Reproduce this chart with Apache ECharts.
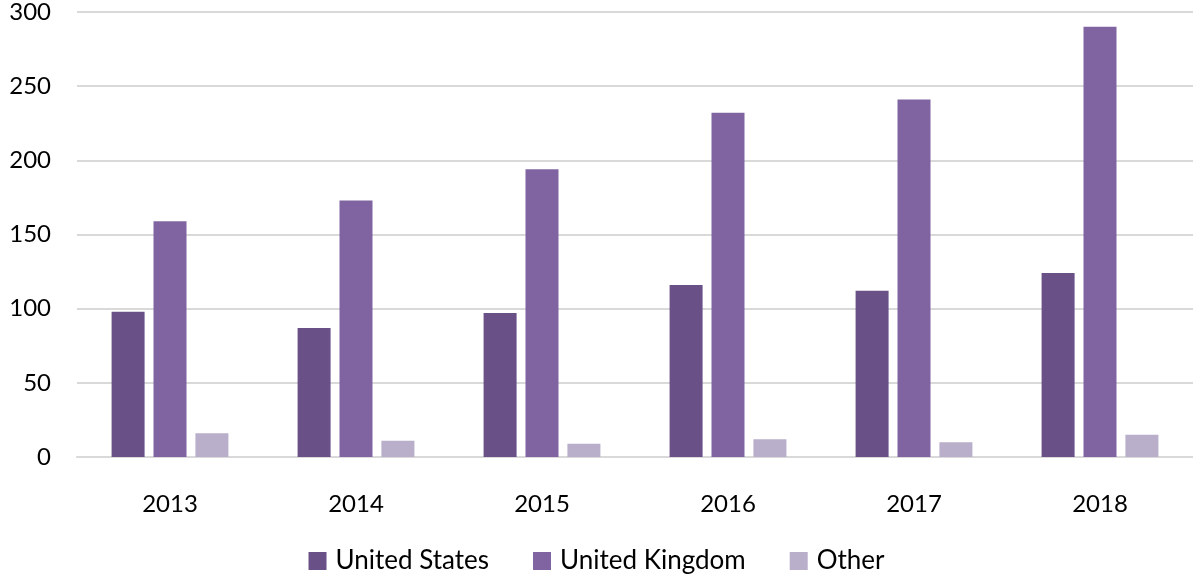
<!DOCTYPE html>
<html>
<head>
<meta charset="utf-8">
<script src="https://cdn.jsdelivr.net/npm/echarts@6/dist/echarts.min.js"></script>
<style>
  html, body { margin: 0; padding: 0; background: #fff; }
  #chart { width: 1193px; height: 574px; }
</style>
</head>
<body>
<div id="chart"></div>
<script>
const years = ["2013", "2014", "2015", "2016", "2017", "2018"];
const unitedStates = [98, 87, 97, 116, 112, 124];
const unitedKingdom = [159, 173, 194, 232, 241, 290];
const other = [16, 11, 9, 12, 10, 15];
const yTicks = { min: 0, max: 300, interval: 50 };

const chart = echarts.init(document.getElementById("chart"));

const barStyle = (name, data, color) => ({
    name: name,
    type: "bar",
    data: data,
    barWidth: 33,
    barGap: "27%",
    itemStyle: { color: color },
});

chart.setOption({
    animation: false,
    textStyle: { fontFamily: "Lato" },
    grid: {
        left: 77,
        right: 0,
        top: 12,
        bottom: 117,
    },
    legend: {
        top: 543,
        left: "center",
        icon: "rect",
        itemWidth: 18,
        itemHeight: 18,
        itemGap: 44,
        textStyle: {
            fontSize: 26,
            color: "#000",
            fontFamily: "Lato",
            padding: [0, 0, 0, 4],
        },
        data: ["United States", "United Kingdom", "Other"],
    },
    xAxis: {
        type: "category",
        data: years,
        axisLine: { lineStyle: { color: "#d9d9d9", width: 2 } },
        axisTick: { show: false },
        axisLabel: { color: "#000", fontSize: 24, margin: 35 },
    },
    yAxis: {
        type: "value",
        min: yTicks.min,
        max: yTicks.max,
        interval: yTicks.interval,
        axisLine: { show: false },
        axisTick: { show: false },
        axisLabel: { color: "#000", fontSize: 24, margin: 26, padding: [6, 0, 0, 0] },
        splitLine: { lineStyle: { color: "#d9d9d9", width: 2 } },
    },
    series: [
        barStyle("United States", unitedStates, "#695087"),
        barStyle("United Kingdom", unitedKingdom, "#8064a2"),
        barStyle("Other", other, "#b9afca"),
    ],
});
</script>
</body>
</html>
